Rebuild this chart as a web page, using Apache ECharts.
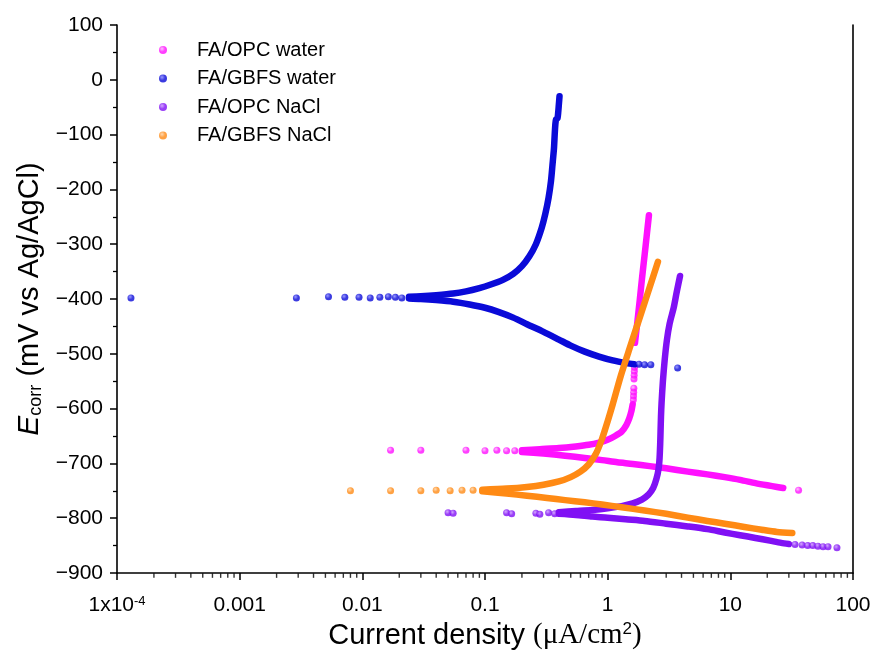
<!DOCTYPE html>
<html><head><meta charset="utf-8">
<script src="https://cdn.jsdelivr.net/npm/echarts@6/dist/echarts.min.js"></script>
<style>html,body{margin:0;padding:0;background:#fff}#c{width:874px;height:658px}</style>
</head><body><div id="c"></div>
<script>
// ---------------- data ----------------
const seriesNames = ['FA/OPC water', 'FA/GBFS water', 'FA/OPC NaCl', 'FA/GBFS NaCl'];
const xTickLabels = ['{n|1x10}{p|-4}', '0.001', '0.01', '0.1', '1', '10', '100'];

// FA/OPC water (magenta)
const opcWaterDots = [[0.017,-676],[0.03,-676],[0.07,-676],[0.1,-677],[0.125,-676],[0.15,-677],[0.175,-677],
  [1.62,-584],[1.625,-577],[1.63,-570],[1.635,-563],[1.64,-546],[1.645,-539],[1.65,-532],[1.655,-525],[36,-749]];
const opcWaterUp1 = [[0.2,-676],[0.28,-674],[0.4,-672],[0.55,-669],[0.7,-666],[0.85,-662],[1.0,-657],[1.15,-650],[1.3,-642],[1.42,-630],[1.5,-618],[1.56,-605],[1.6,-592]];
const opcWaterUp2 = [[1.67,-480],[1.75,-440],[1.83,-400],[1.91,-360],[2.0,-320],[2.08,-285],[2.17,-247]];
const opcWaterLow = [[0.2,-679],[0.3,-682],[0.45,-686],[0.65,-690],[0.9,-694],[1.2,-698],[1.6,-701],[2.2,-705],[3,-709],[4.5,-715],[6.5,-720],[9,-725],[12,-730],[16,-736],[20,-740],[24,-743],[27,-745]];

// FA/GBFS water (blue)
const gbfsWaterDots = [[1.3e-4,-398],[0.0029,-398],[0.0053,-396],[0.0072,-397],[0.0094,-397],[0.0116,-398],[0.0139,-397],[0.0163,-396],[0.0186,-397],[0.021,-398],
  [1.8,-519],[2.0,-520],[2.25,-520],[3.72,-526]];
const gbfsWaterUp = [[0.024,-396],[0.03,-395],[0.04,-393],[0.055,-390],[0.07,-386],[0.09,-380],[0.11,-374],[0.14,-365],[0.17,-354],[0.2,-340],[0.23,-322],[0.26,-300],[0.29,-270],[0.31,-245],[0.33,-215],[0.345,-185],[0.355,-155],[0.365,-125],[0.37,-100],[0.375,-80],[0.38,-72],[0.39,-70],[0.395,-60],[0.4,-45],[0.405,-30]];
const gbfsWaterLow = [[0.024,-399],[0.03,-400],[0.04,-402],[0.055,-405],[0.075,-410],[0.1,-416],[0.13,-424],[0.17,-434],[0.22,-446],[0.3,-460],[0.4,-474],[0.5,-485],[0.65,-496],[0.85,-505],[1.1,-512],[1.43,-517],[1.65,-519]];

// FA/OPC NaCl (purple)
const opcNaclDots = [[0.05,-790],[0.055,-791],[0.15,-790],[0.165,-792],[0.26,-791],[0.28,-793],[0.33,-790],[0.37,-792],
  [33.7,-848],[38.5,-849],[42.7,-850],[47,-850],[51.8,-851],[57,-852],[62.6,-852],[74,-854]];
const opcNaclUp = [[0.4,-789],[0.55,-787],[0.75,-785],[1.0,-782],[1.3,-778],[1.6,-773],[1.9,-766],[2.15,-757],[2.35,-745],[2.5,-728],[2.6,-710],[2.65,-690],[2.68,-665],[2.7,-640],[2.72,-615],[2.75,-590],[2.82,-550],[2.92,-510],[3.04,-475],[3.2,-445],[3.46,-415],[3.65,-388],[3.89,-358]];
const opcNaclLow = [[0.4,-792],[0.55,-794],[0.75,-797],[1.0,-799],[1.4,-802],[2,-805],[3,-810],[4.5,-815],[6.5,-820],[9,-826],[12,-831],[16,-836],[21,-841],[26,-845],[30,-847]];

// FA/GBFS NaCl (orange)
const gbfsNaclDots = [[0.008,-750],[0.017,-750],[0.03,-750],[0.04,-749],[0.052,-750],[0.065,-749],[0.08,-749]];
const gbfsNaclUp = [[0.095,-748],[0.15,-746],[0.22,-743],[0.3,-739],[0.4,-733],[0.5,-725],[0.6,-715],[0.7,-702],[0.8,-683],[0.9,-655],[1.0,-623],[1.1,-592],[1.28,-540],[1.51,-490],[1.85,-430],[2.19,-380],[2.57,-332]];
const gbfsNaclLow = [[0.095,-751],[0.15,-755],[0.22,-759],[0.32,-763],[0.45,-767],[0.65,-771],[0.9,-775],[1.3,-780],[2,-786],[3,-792],[4.5,-799],[6.5,-805],[9,-810],[13,-816],[18,-821],[24,-825],[32,-827]];

// ---------------- style ----------------
const colors = ['#ff10ff', '#0a0ad8', '#8010f4', '#ff8a14'];
const lights = ['#ffb0ff', '#8080ff', '#c890ff', '#ffd0a0'];
const FONT = '"Liberation Sans", Arial, sans-serif';

function ball(i) {
  return { type: 'radial', x: 0.38, y: 0.35, r: 0.7,
    colorStops: [{ offset: 0, color: lights[i] }, { offset: 0.55, color: colors[i] }, { offset: 1, color: colors[i] }] };
}
function dots(i, data) {
  return { name: seriesNames[i], type: 'scatter', data: data, symbol: 'circle', symbolSize: 7,
    itemStyle: { color: ball(i) }, z: 3 + i, silent: true };
}
function branch(i, data) {
  return { name: seriesNames[i], type: 'line', data: data, showSymbol: false, symbol: 'none', smooth: 0.25,
    lineStyle: { color: colors[i], width: 6.5, cap: 'round', join: 'round' }, itemStyle: { color: colors[i] }, z: 3 + i, silent: true };
}

// minor tick positions of the log axis (2..9 in every decade)
const minorX = [];
for (let e = -4; e < 2; e++) for (let k = 2; k <= 9; k++) minorX.push(k * Math.pow(10, e));

const chart = echarts.init(document.getElementById('c'), null, { renderer: 'canvas' });
chart.setOption({
  animation: false,
  backgroundColor: '#fff',
  grid: { left: 117, right: 21, top: 25, bottom: 85, containLabel: false },
  legend: {
    data: seriesNames.map(n => ({ name: n, icon: 'circle' })),
    orient: 'vertical', left: 159, top: 40, padding: 0,
    itemWidth: 8, itemHeight: 8, itemGap: 8.5,
    textStyle: { fontFamily: FONT, fontSize: 20, color: '#000', lineHeight: 20, padding: [0, 0, 0, 25] },
    selectedMode: false
  },
  xAxis: [{
    type: 'log', logBase: 10, min: 1e-4, max: 100, splitNumber: 6,
    axisLine: { onZero: false, lineStyle: { color: '#000', width: 1.6 } },
    axisTick: { length: 7, lineStyle: { color: '#000', width: 1.5 } },
    splitLine: { show: false },
    axisLabel: {
      margin: 22, color: '#000', fontFamily: FONT, fontSize: 21,
      formatter: v => xTickLabels[Math.round(Math.log10(v)) + 4],
      rich: { n: { fontFamily: FONT, fontSize: 21, color: '#000' }, p: { fontFamily: FONT, fontSize: 13, color: '#000', verticalAlign: 'top', padding: [0, 0, 8, 0] } }
    },
    name: '{a|Current density }{b|(μA/cm}{c|2}{b|)}',
    nameLocation: 'middle', nameGap: 48,
    nameTextStyle: { rich: {
      a: { fontFamily: FONT, fontSize: 29, color: '#000' },
      b: { fontFamily: '"Liberation Serif", "Times New Roman", serif', fontSize: 29, color: '#000' },
      c: { fontFamily: FONT, fontSize: 17, color: '#000', verticalAlign: 'top', padding: [0, 0, 12, 0] }
    } }
  }],
  yAxis: [{
    type: 'value', min: -900, max: 100, interval: 100,
    axisLine: { show: true, onZero: false, lineStyle: { color: '#000', width: 1.6 } },
    axisTick: { show: true, length: 7, lineStyle: { color: '#000', width: 1.5 } },
    minorTick: { show: true, splitNumber: 2, length: 4, lineStyle: { color: '#000', width: 1.3 } },
    splitLine: { show: false },
    axisLabel: { margin: 14, color: '#000', fontFamily: FONT, fontSize: 21, formatter: v => String(v).replace('-', '\u2212') },
    name: '{e|E}{s|corr}{t| (mV vs Ag/AgCl)}',
    nameLocation: 'middle', nameRotate: 90, nameGap: 72,
    nameTextStyle: { rich: {
      e: { fontFamily: FONT, fontStyle: 'italic', fontSize: 30, color: '#000' },
      s: { fontFamily: FONT, fontSize: 18, color: '#000', verticalAlign: 'bottom', padding: [9, 0, 0, 0] },
      t: { fontFamily: FONT, fontSize: 29, color: '#000' }
    } }
  }, {
    type: 'value', min: -900, max: 100, position: 'right',
    axisLine: { show: true, onZero: false, lineStyle: { color: '#000', width: 1.6 } },
    axisTick: { show: false }, axisLabel: { show: false }, splitLine: { show: false }
  }],
  series: [
    { name: 'minor ticks', type: 'scatter', data: minorX.map(v => [v, -900]), symbol: 'rect', symbolSize: [1.4, 4.5],
      symbolOffset: [0, 2.6], clip: false, silent: true, itemStyle: { color: '#000' }, z: 10 },
    dots(0, opcWaterDots), branch(0, opcWaterUp1), branch(0, opcWaterUp2), branch(0, opcWaterLow),
    dots(2, opcNaclDots), branch(2, opcNaclUp), branch(2, opcNaclLow),
    dots(3, gbfsNaclDots), branch(3, gbfsNaclUp), branch(3, gbfsNaclLow),
    dots(1, gbfsWaterDots), branch(1, gbfsWaterUp), branch(1, gbfsWaterLow)
  ]
});
</script>
</body></html>
